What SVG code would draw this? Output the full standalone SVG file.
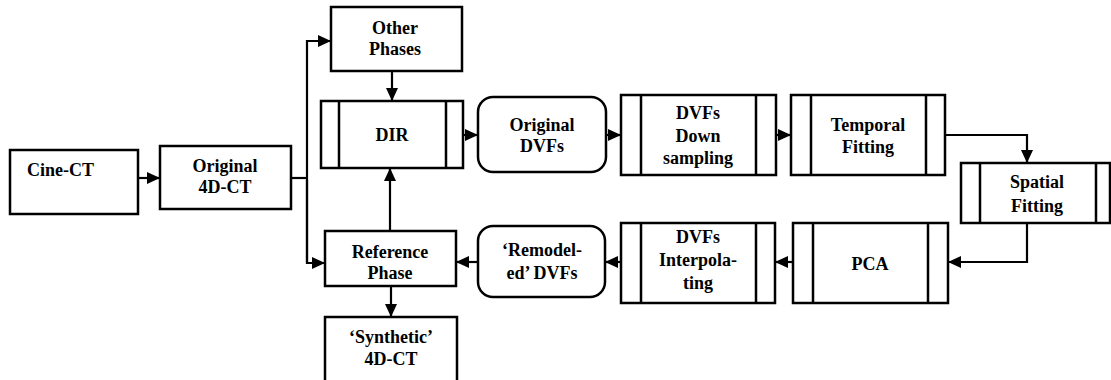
<svg xmlns="http://www.w3.org/2000/svg" width="1111" height="380" viewBox="0 0 1111 380">
<style>
.b{fill:#fff;stroke:#000;stroke-width:2.5}
.l{fill:none;stroke:#000;stroke-width:2.5}
.c{fill:none;stroke:#000;stroke-width:2.2}
.t text{font-family:'Liberation Serif','DejaVu Serif',serif;font-weight:bold;font-size:18px;fill:#000;text-anchor:middle}
</style>
<defs>
<marker id="a" markerUnits="userSpaceOnUse" markerWidth="14" markerHeight="14" viewBox="0 0 14 14" refX="13" refY="7" orient="auto">
<path d="M0,1 L13,7 L0,13 Z" fill="#000"/>
</marker>
</defs>
<rect width="1111" height="380" fill="#fff"/>
<g id="connectors">
<path class="c" d="M138,178 H160" marker-end="url(#a)"/>
<path class="c" d="M291,178 H307"/>
<path class="c" d="M307,263 V41 H331" marker-end="url(#a)"/>
<path class="c" d="M307,180 V263 H325" marker-end="url(#a)"/>
<path class="c" d="M392,71 V101" marker-end="url(#a)"/>
<path class="c" d="M390,231 V168" marker-end="url(#a)"/>
<path class="c" d="M391,286 V317" marker-end="url(#a)"/>
<path class="c" d="M463,135 H478" marker-end="url(#a)"/>
<path class="c" d="M606,135 H621" marker-end="url(#a)"/>
<path class="c" d="M776,135 H791" marker-end="url(#a)"/>
<path class="c" d="M945,135 H1027 V163" marker-end="url(#a)"/>
<path class="c" d="M1027,223 V262 H948" marker-end="url(#a)"/>
<path class="c" d="M793,262 H775" marker-end="url(#a)"/>
<path class="c" d="M621,262 H605" marker-end="url(#a)"/>
<path class="c" d="M478,262 H456" marker-end="url(#a)"/>
</g>
<g class="t">
<g id="cine-ct">
<rect class="b" x="10" y="150" width="128" height="64"/>
<text x="27" y="176" style="text-anchor:start">Cine-CT</text>
</g>
<g id="original-4dct">
<rect class="b" x="160" y="146" width="131" height="63"/>
<text x="225" y="172">Original</text>
<text x="225" y="193">4D-CT</text>
</g>
<g id="other-phases">
<rect class="b" x="331" y="7" width="131" height="64"/>
<text x="395" y="34">Other</text>
<text x="395" y="55">Phases</text>
</g>
<g id="dir">
<rect class="b" x="321" y="101" width="142" height="67"/>
<path class="l" d="M339,101 V168 M446,101 V168"/>
<text x="392" y="141">DIR</text>
</g>
<g id="reference-phase">
<rect class="b" x="325" y="231" width="131" height="55"/>
<text x="390" y="258">Reference</text>
<text x="390" y="279">Phase</text>
</g>
<g id="synthetic-4dct">
<rect class="b" x="325" y="317" width="132" height="66"/>
<text x="391" y="343">‘Synthetic’</text>
<text x="391" y="365">4D-CT</text>
</g>
<g id="original-dvfs">
<rect class="b" x="478" y="97" width="128" height="75" rx="15"/>
<text x="542" y="131">Original</text>
<text x="542" y="152">DVFs</text>
</g>
<g id="dvfs-downsampling">
<rect class="b" x="621" y="95" width="155" height="80"/>
<path class="l" d="M641,95 V175 M756,95 V175"/>
<text x="698" y="119">DVFs</text>
<text x="698" y="142">Down</text>
<text x="698" y="164">sampling</text>
</g>
<g id="temporal-fitting">
<rect class="b" x="791" y="95" width="154" height="80"/>
<path class="l" d="M811,95 V175 M926,95 V175"/>
<text x="868" y="131">Temporal</text>
<text x="868" y="153">Fitting</text>
</g>
<g id="spatial-fitting">
<rect class="b" x="961" y="163" width="149" height="60"/>
<path class="l" d="M980,163 V223 M1096,163 V223"/>
<text x="1037" y="188">Spatial</text>
<text x="1037" y="212">Fitting</text>
</g>
<g id="pca">
<rect class="b" x="793" y="223" width="155" height="80"/>
<path class="l" d="M813,223 V303 M928,223 V303"/>
<text x="870" y="270">PCA</text>
</g>
<g id="dvfs-interpolating">
<rect class="b" x="621" y="223" width="154" height="80"/>
<path class="l" d="M641,223 V303 M756,223 V303"/>
<text x="698" y="243">DVFs</text>
<text x="698" y="266">Interpola-</text>
<text x="698" y="289">ting</text>
</g>
<g id="remodeled-dvfs">
<rect class="b" x="478" y="226" width="127" height="71" rx="15"/>
<text x="542" y="256">‘Remodel-</text>
<text x="542" y="279">ed’ DVFs</text>
</g>
</g>
</svg>
